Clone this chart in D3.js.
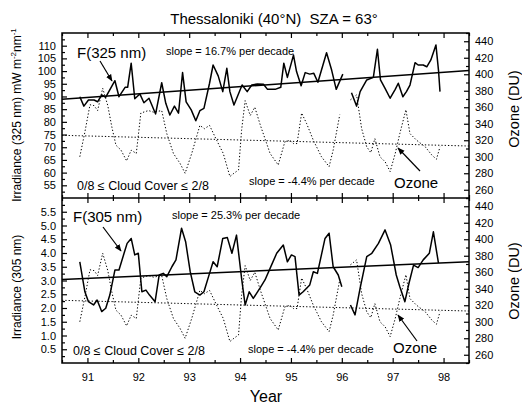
<!DOCTYPE html>
<html>
<head>
<meta charset="utf-8">
<script src="https://cdn.jsdelivr.net/npm/d3@7"></script>
<style>
body { margin: 0; background: #fff; }
text { font-family: "Liberation Sans", Arial, Helvetica, sans-serif; fill: #000; }
</style>
</head>
<body>
<svg id="chart" width="522" height="405"></svg>
<script>

// year ticks
var years = [91, 92, 93, 94, 95, 96, 97, 98]
var halfYears = [90.5, 91.5, 92.5, 93.5, 94.5, 95.5, 96.5, 97.5, 98.5]

// irradiance at 325 nm, [decimal year, mW m-2 nm-1], null = gap
var f325 = [
	[90.85, 89.9], [90.93, 86.2], [91.02, 88.6], [91.13, 88.6], [91.20, 87.9], [91.28, 90.6],
	[91.36, 89.7], [91.54, 96.2], [91.62, 89.9], [91.74, 93.6], [91.79, 93.6], [91.86, 103.1],
	[91.93, 89.1], [92.03, 91.0], [92.11, 87.5], [92.21, 89.3], [92.34, 83.1], [92.46, 95.4],
	[92.54, 87.3], [92.62, 82.7], [92.71, 86.2], [92.79, 83.4], [92.87, 99.4], [92.94, 87.9],
	[93.04, 84.7], [93.13, 80.4], [93.21, 84.4], [93.29, 85.3], [93.40, 95.2], [93.47, 102.4],
	[93.57, 98.1], [93.66, 91.9], [93.74, 101.1], [93.80, 91.9], [93.88, 86.6], [94.04, 94.5],
	[94.14, 91.9], [94.23, 94.5], [94.34, 94.9], [94.46, 94.8], [94.54, 92.8], [94.69, 92.8],
	[94.80, 93.6], [94.86, 103.1], [94.93, 97.5], [95.05, 106.3], [95.11, 99.8], [95.20, 94.2],
	[95.28, 99.4], [95.37, 98.8], [95.45, 99.1], [95.53, 95.6], [95.70, 107.2], [95.80, 100.4],
	[95.89, 92.8], [96.02, 98.8], [96.10, null], [96.19, 91.5], [96.29, 86.2], [96.36, 91.9],
	[96.49, 96.5], [96.62, 97.5], [96.70, 108.6], [96.76, 96.5], [96.85, 93.2], [96.95, 89.3],
	[97.05, 92.8], [97.11, 95.2], [97.20, 89.9], [97.27, 91.9], [97.34, 94.5], [97.44, 103.3],
	[97.50, 102.4], [97.60, 102.4], [97.67, 101.7], [97.75, 104.4], [97.85, 110.3], [97.90, 100.4],
	[97.93, 91.9]
]

// irradiance at 305 nm
var f305 = [
	[90.85, 3.68], [90.95, 2.59], [91.02, 2.23], [91.12, 2.11], [91.19, 2.29], [91.28, 1.87],
	[91.36, 1.99], [91.44, 2.47], [91.54, 3.38], [91.62, 3.38], [91.72, 3.99], [91.78, 4.35],
	[91.86, 4.53], [91.93, 3.93], [92.00, 3.99], [92.07, 2.59], [92.15, 2.65], [92.22, 2.47],
	[92.33, 2.23], [92.41, 3.20], [92.49, 3.26], [92.56, 3.14], [92.66, 3.50], [92.74, 3.75],
	[92.85, 4.90], [92.93, 4.41], [93.02, 3.32], [93.11, 2.59], [93.21, 2.47], [93.29, 2.59],
	[93.40, 3.26], [93.47, 3.68], [93.55, 3.50], [93.66, 4.53], [93.75, 4.56], [93.84, 3.99],
	[93.93, 4.65], [94.03, 3.08], [94.10, 2.11], [94.18, 2.59], [94.26, 2.35], [94.40, 2.75],
	[94.49, 3.02], [94.59, 3.44], [94.72, 3.99], [94.85, 4.29], [94.93, 3.68], [95.01, 3.93],
	[95.08, 3.87], [95.16, 2.47], [95.24, 2.59], [95.37, 2.84], [95.44, 3.32], [95.52, 3.26],
	[95.67, 4.53], [95.75, 4.72], [95.83, 3.50], [95.93, 3.20], [96.00, 2.77], [96.08, null],
	[96.17, 2.11], [96.26, 1.75], [96.36, 2.72], [96.49, 3.87], [96.59, 3.99], [96.72, 4.35],
	[96.85, 4.84], [96.96, 4.29], [97.07, 3.20], [97.14, 2.77], [97.24, 2.23], [97.32, 2.90],
	[97.41, 3.56], [97.50, 3.47], [97.60, 3.75], [97.72, 3.99], [97.80, 4.77], [97.90, 3.63]
]

// total ozone, DU
var ozone = [
	[90.85, 300], [90.95, 330], [91.05, 363], [91.13, 362], [91.20, 356], [91.30, 383],
	[91.40, 362], [91.48, 336], [91.56, 314], [91.66, 308], [91.77, 295], [91.86, 308],
	[91.96, 304], [92.05, 353], [92.20, 356], [92.30, 354], [92.46, 356], [92.56, 328],
	[92.69, 304], [92.82, 292], [92.92, 280], [93.05, 304], [93.21, 338], [93.30, 334],
	[93.40, 338], [93.54, 320], [93.67, 304], [93.80, 276], [93.88, 280], [93.97, 284],
	[94.03, 332], [94.10, 368], [94.20, 350], [94.29, 360], [94.40, 338], [94.59, 304],
	[94.75, 290], [94.88, 318], [94.98, 320], [95.05, 316], [95.12, 316], [95.21, 353],
	[95.31, 340], [95.44, 320], [95.60, 300], [95.75, 288], [95.83, 308], [95.96, 351],
	[96.06, null], [96.17, 369], [96.29, 375], [96.39, 334], [96.49, 312], [96.57, 305],
	[96.65, 322], [96.75, 300], [96.85, 294], [96.95, 282], [97.05, 304], [97.14, 328],
	[97.26, 357], [97.34, 328], [97.47, 320], [97.64, 312], [97.77, 302], [97.86, 297],
	[97.93, 312]
]

// linear trends (start / end of record)
var trend325 = [[90.5, 88.9], [98.5, 100.2]]
var trend305 = [[90.5, 3.04], [98.5, 3.68]]
var trendOzone = [[90.5, 326], [98.5, 313]]

var ticks325 = d3.range(55, 111, 5)
var ticks305 = d3.range(0.5, 5.51, 0.5)
var ticksOzone = d3.range(260, 441, 20)

var svg = d3.select('#chart')
var pLeft = 62, pRight = 469, pTop = 33, ph = 165
var pMid = pTop + ph, pBottom = pTop + 2 * ph

var x = d3.scaleLinear().domain([90.5, 98.5]).range([pLeft, pRight])
var y325 = d3.scaleLinear().domain([50, 115]).range([pMid, pTop])
var yOzTop = d3.scaleLinear().domain([250, 450]).range([pMid, pTop])
var y305 = d3.scaleLinear().domain([0, 6]).range([pBottom, pMid])
var yOzBot = d3.scaleLinear().domain([250, 450]).range([pBottom, pMid])

svg.append('defs').append('marker')
	.attr('id', 'arrow')
	.attr('viewBox', '0 0 10 10')
	.attr('refX', 9).attr('refY', 5)
	.attr('markerWidth', 6).attr('markerHeight', 6)
	.attr('orient', 'auto')
	.append('path').attr('d', 'M0,1L10,5L0,9Z').attr('fill', '#000')

function styleAxis(g) {
	g.select('.domain').remove()
	g.selectAll('line').attr('stroke', '#000').attr('stroke-width', 1.2)
	g.selectAll('text').attr('font-size', 11).attr('fill', '#000')
		.style('font-family', '"Liberation Sans", Arial, sans-serif')
}

function yAxes(yL, yR, ticksL, fmt, stepL) {
	svg.append('g').attr('transform', 'translate(' + pLeft + ',0)')
		.call(d3.axisLeft(yL).tickValues(ticksL).tickSize(-5).tickPadding(6).tickFormat(fmt))
		.call(styleAxis)
	var minorL = ticksL.map(function(v) { return v + stepL / 2 }).concat([ticksL[0] - stepL / 2])
	svg.append('g').attr('transform', 'translate(' + pLeft + ',0)')
		.call(d3.axisLeft(yL).tickValues(minorL).tickSize(-3).tickFormat(''))
		.call(styleAxis)
	svg.append('g').attr('transform', 'translate(' + pRight + ',0)')
		.call(d3.axisRight(yR).tickValues(ticksOzone).tickSize(-5).tickPadding(6))
		.call(styleAxis)
	var minorR = ticksOzone.map(function(v) { return v + 10 }).concat([250])
	svg.append('g').attr('transform', 'translate(' + pRight + ',0)')
		.call(d3.axisRight(yR).tickValues(minorR).tickSize(-3).tickFormat(''))
		.call(styleAxis)
}

yAxes(y325, yOzTop, ticks325, d3.format('d'), 5)
yAxes(y305, yOzBot, ticks305, d3.format('.1f'), 0.5)

// x ticks: top edge (down), divider (up and down), bottom edge (up)
var xPlaces = [[pTop, 'top'], [pMid, 'bottom'], [pMid, 'top'], [pBottom, 'bottom']]
xPlaces.forEach(function(p) {
	var size = (p[0] == pMid) ? 5 : -5
	var mk = function() { return p[1] == 'top' ? d3.axisTop(x) : d3.axisBottom(x) }
	if (p[0] == pMid) mk = function() { return p[1] == 'top' ? d3.axisBottom(x) : d3.axisTop(x) }
	svg.append('g').attr('transform', 'translate(0,' + p[0] + ')')
		.call(mk().tickValues(years).tickSize(size).tickFormat(''))
		.call(styleAxis)
	svg.append('g').attr('transform', 'translate(0,' + p[0] + ')')
		.call(mk().tickValues(halfYears).tickSize(size * 0.6).tickFormat(''))
		.call(styleAxis)
})

svg.append('g').attr('transform', 'translate(0,' + pBottom + ')')
	.call(d3.axisBottom(x).tickValues(years).tickSize(0).tickPadding(10).tickFormat(d3.format('d')))
	.call(styleAxis)

// frame
svg.append('rect').attr('x', pLeft).attr('y', pTop).attr('width', pRight - pLeft).attr('height', 2 * ph)
	.attr('fill', 'none').attr('stroke', '#000').attr('stroke-width', 1.5)
svg.append('line').attr('x1', pLeft).attr('x2', pRight).attr('y1', pMid).attr('y2', pMid)
	.attr('stroke', '#000').attr('stroke-width', 1.5)

function drawLine(data, yScale, dotted, width) {
	var line = d3.line()
		.defined(function(d) { return d[1] != null })
		.x(function(d) { return x(d[0]) })
		.y(function(d) { return yScale(d[1]) })
	svg.append('path').datum(data)
		.attr('d', line)
		.attr('fill', 'none')
		.attr('stroke', '#000')
		.attr('stroke-width', width)
		.attr('stroke-linejoin', 'round')
		.attr('stroke-dasharray', dotted ? '1.3,2' : null)
}

drawLine(ozone, yOzTop, true, 1)
drawLine(trendOzone, yOzTop, true, 1)
drawLine(f325, y325, false, 1.5)
drawLine(trend325, y325, false, 1.5)

drawLine(ozone, yOzBot, true, 1)
drawLine(trendOzone, yOzBot, true, 1)
drawLine(f305, y305, false, 1.5)
drawLine(trend305, y305, false, 1.5)

// texts
function label(txt, px, py, size, anchor) {
	return svg.append('text').attr('x', px).attr('y', py)
		.attr('font-size', size).attr('text-anchor', anchor || 'start').text(txt)
}
function arrow(x1, y1, x2, y2) {
	svg.append('line').attr('x1', x1).attr('y1', y1).attr('x2', x2).attr('y2', y2)
		.attr('stroke', '#000').attr('stroke-width', 1.2).attr('marker-end', 'url(#arrow)')
}

label('Thessaloniki (40\u00b0N)  SZA = 63\u00b0', 274, 24, 15, 'middle').style('white-space', 'pre')

label('F(325 nm)', 77, 58, 15)
arrow(100, 61, 112, 81)
label('slope = 16.7% per decade', 166, 55, 11)
label('0/8 \u2264 Cloud Cover \u2264 2/8', 77, 190, 12.5)
label('slope = -4.4% per decade', 249, 185, 11)
label('Ozone', 394, 188, 15)
arrow(420, 171, 398, 148)

label('F(305 nm)', 73, 222, 15)
arrow(103, 227, 121, 251)
label('slope = 25.3% per decade', 172, 219, 11)
label('0/8 \u2264 Cloud Cover \u2264 2/8', 73, 355, 12.5)
label('slope = -4.4% per decade', 248, 353, 11)
label('Ozone', 393, 353, 15)
arrow(417, 341, 398, 315)

label('Year', 266, 402, 16, 'middle')

// axis titles
var t1 = svg.append('text').attr('transform', 'translate(21,115) rotate(-90)')
	.attr('font-size', 12).attr('text-anchor', 'middle')
t1.append('tspan').text('Irradiance (325 nm) mW m')
t1.append('tspan').attr('font-size', 8).attr('dy', -5).text('-2')
t1.append('tspan').attr('dy', 5).text('nm')
t1.append('tspan').attr('font-size', 8).attr('dy', -5).text('-1')

svg.append('text').attr('transform', 'translate(21,287) rotate(-90)')
	.attr('font-size', 12).attr('text-anchor', 'middle').text('Irradiance (305 nm)')

svg.append('text').attr('transform', 'translate(519,109) rotate(-90)')
	.attr('font-size', 14.5).attr('text-anchor', 'middle').text('Ozone (DU)')
svg.append('text').attr('transform', 'translate(519,281) rotate(-90)')
	.attr('font-size', 14.5).attr('text-anchor', 'middle').text('Ozone (DU)')

</script>
</body>
</html>
